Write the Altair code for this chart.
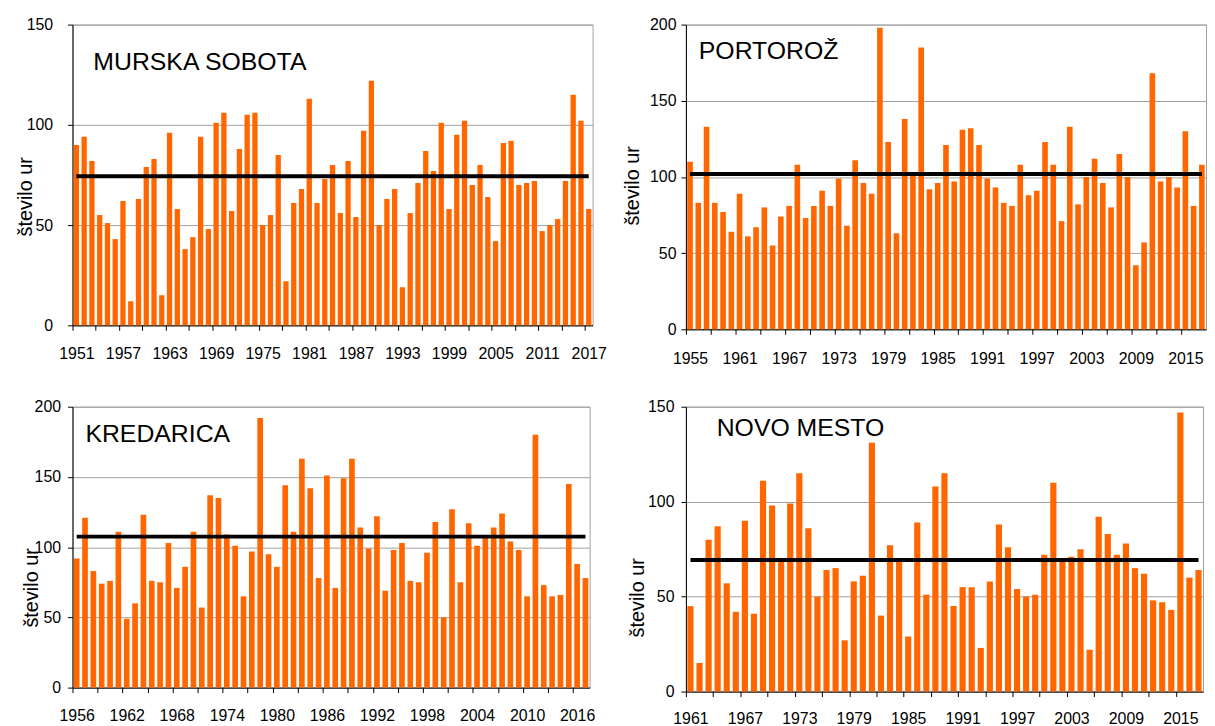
import altair as alt
import pandas as pd

# ---------------- data ----------------
ms_name = "MURSKA SOBOTA"
ms_years = list(range(1951, 2018))
ms_values = [90, 94, 82, 55, 51, 43, 62, 12, 63, 79,
             83, 15, 96, 58, 38, 44, 94, 48, 101, 106,
             57, 88, 105, 106, 50, 55, 85, 22, 61, 68,
             113, 61, 73, 80, 56, 82, 54, 97, 122, 50,
             63, 68, 19, 56, 71, 87, 77, 101, 58, 95,
             102, 70, 80, 64, 42, 91, 92, 70, 71, 72,
             47, 50, 53, 72, 115, 102, 58]
ms_mean = 74.3

po_name = "PORTOROŽ"
po_years = list(range(1955, 2018))
po_values = [110, 83, 133, 83, 77, 64, 89, 61, 67, 80,
             55, 74, 81, 108, 73, 81, 91, 81, 99, 68,
             111, 96, 89, 198, 123, 63, 138, 103, 185, 92,
             96, 121, 97, 131, 132, 121, 99, 93, 83, 81,
             108, 88, 91, 123, 108, 71, 133, 82, 100, 112,
             96, 80, 115, 100, 42, 57, 168, 97, 100, 93,
             130, 81, 108]
po_mean = 102.0

kr_name = "KREDARICA"
kr_years = list(range(1956, 2018))
kr_values = [92, 121, 83, 74, 76, 111, 49, 60, 123, 76,
             75, 103, 71, 86, 111, 57, 137, 135, 109, 101,
             65, 97, 192, 95, 86, 144, 111, 163, 142, 78,
             151, 71, 149, 163, 114, 99, 122, 69, 98, 103,
             76, 75, 96, 118, 50, 127, 75, 117, 101, 107,
             114, 124, 104, 98, 65, 180, 73, 65, 66, 145,
             88, 78]
kr_mean = 107.5

nm_name = "NOVO MESTO"
nm_years = list(range(1961, 2018))
nm_values = [45, 15, 80, 87, 57, 42, 90, 41, 111, 98,
             70, 99, 115, 86, 50, 64, 65, 27, 58, 61,
             131, 40, 77, 70, 29, 89, 51, 108, 115, 45,
             55, 55, 23, 58, 88, 76, 54, 50, 51, 72,
             110, 70, 71, 75, 22, 92, 83, 72, 78, 65,
             62, 48, 47, 43, 147, 60, 64]
nm_mean = 69.3

y_title = "število ur"

# ---------------- styling ----------------
FONT = "Liberation Sans, Arial, Helvetica, sans-serif"
ORANGE = "#FF6600"
GRID = "#A0A0A0"


def panel(name, years, values, mean, ymax, width, height,
          name_x, name_y, title_x, title_y, ylab_pad, xlab_pad):
    first, last = years[0], years[-1]
    df = pd.DataFrame({"year": years, "value": values})
    step = width / len(years)
    xscale = alt.Scale(domain=years, paddingInner=0.32, paddingOuter=0.16)
    yscale = alt.Scale(domain=[0, ymax], nice=False)
    tick_years = [y for y in years if (y - first) % 3 == 0]
    xaxis = alt.Axis(
        values=tick_years,
        labelExpr=f"(datum.value - {first}) % 6 == 0 ? datum.label : ''",
        tickOffset=-step / 2,
        labelOffset=step / 2,
        labelAngle=0,
        labelOverlap=False,
        labelPadding=xlab_pad,
        labelFontSize=16,
        title=None,
        grid=False,
        tickSize=5,
    )
    yaxis = alt.Axis(
        values=list(range(0, ymax + 1, 50)),
        grid=True,
        title=y_title,
        titleX=title_x,
        titleY=title_y,
        titleBaseline="bottom",
        titleAlign="center",
        titleFontSize=20,
        labelFontSize=16,
        labelPadding=ylab_pad,
        tickSize=5,
    )
    bars = alt.Chart(df).mark_bar(color=ORANGE).encode(
        x=alt.X("year:O", scale=xscale, axis=xaxis, title=None),
        y=alt.Y("value:Q", scale=yscale, axis=yaxis, title=y_title),
    )
    mean_df = pd.DataFrame({"year": [first], "end": [last], "value": [mean]})
    rule = alt.Chart(mean_df).mark_rule(color="black", strokeWidth=4).encode(
        x=alt.X("year:O", scale=xscale, axis=xaxis, title=None),
        x2=alt.X2("end"),
        y=alt.Y("value:Q", scale=yscale, axis=yaxis, title=y_title),
    )
    label = alt.Chart(pd.DataFrame({"name": [name]})).mark_text(
        align="left", baseline="middle", fontSize=25, font=FONT, color="black"
    ).encode(x=alt.value(name_x), y=alt.value(name_y), text="name:N")
    return alt.layer(bars, rule, label).properties(width=width, height=height)


p1 = panel(ms_name, ms_years, ms_values, ms_mean, 150, 524, 303,
           21, 38, -37, 173, 15, 15)
p2 = panel(po_name, po_years, po_values, po_mean, 200, 524, 307,
           13, 27, -44, 162, 5, 16)
p3 = panel(kr_name, kr_years, kr_values, kr_mean, 200, 521, 283,
           13, 28, -31, 182, 7, 15)
p4 = panel(nm_name, nm_years, nm_values, nm_mean, 150, 521, 287,
           31, 21, -39, 192, 7, 14)

chart = alt.concat(
    p1, p2, p3, p4, columns=2,
    spacing={"row": 78, "column": 94},
    bounds="flush",
).properties(
    padding={"left": 7, "top": 5, "right": 0, "bottom": 0},
    background="white",
).configure_view(
    stroke=GRID, strokeWidth=1
).configure_axis(
    labelFont=FONT, titleFont=FONT, labelColor="black", titleColor="black",
    domainColor="black", tickColor="black", gridColor=GRID,
    titleFontWeight="normal",
)

chart.save("out.html", embed_options={"renderer": "svg", "actions": False})
